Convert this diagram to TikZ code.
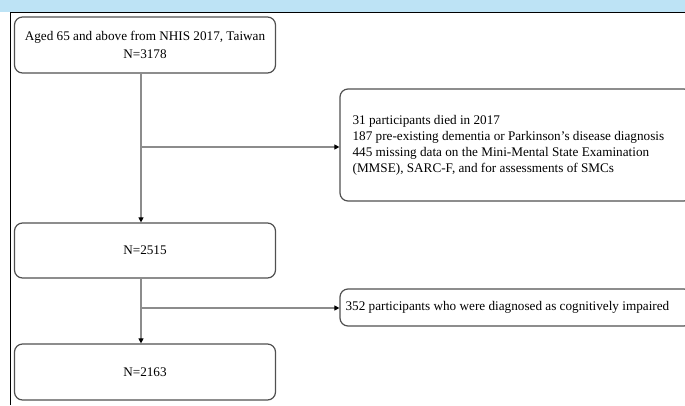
\documentclass[tikz,border=0pt]{standalone}
\usepackage{fontspec}
\setmainfont{Liberation Serif}
\usetikzlibrary{arrows.meta}
\definecolor{band}{HTML}{BDE3F5}
\definecolor{boxline}{HTML}{505050}
\definecolor{conn}{HTML}{8C8C8C}
\tikzset{
  x=1pt,y=-1pt,
  flowbox/.style={draw=boxline,line width=1.2pt,rounded corners=8pt,inner sep=0pt},
  conline/.style={draw=conn,line width=1.1pt},
  arr/.style={conline,-{Triangle[length=5pt,width=5pt,fill=black,color=black]}},
  txt/.style={font=\fontsize{13.2}{16}\selectfont,align=center,inner sep=0pt}
}
\begin{document}
\begin{tikzpicture}
\useasboundingbox (0,0) rectangle (685,405);
\fill[band] (0,0) rectangle (685,12);
\draw[black,line width=1pt] (10,405) -- (10,12) -- (685,12);
% boxes
\node[flowbox,minimum width=261pt,minimum height=56pt] (b1) at (145,45) {};
\node[flowbox,minimum width=352pt,minimum height=112pt] (b2) at (516,145) {};
\node[flowbox,minimum width=261pt,minimum height=55pt] (b3) at (145,250.5) {};
\node[flowbox,minimum width=352pt,minimum height=37pt] (b4) at (516,307.5) {};
\node[flowbox,minimum width=261pt,minimum height=56pt] (b5) at (145,372) {};
% texts
\node[txt,font=\fontsize{13.2}{18}\selectfont] (t1) at (b1.center) {Aged 65 and above from NHIS 2017, Taiwan\\N=3178};
\node[txt,align=left,anchor=west] (t2) at ([xshift=13pt]b2.west) {31 participants died in 2017\\187 pre-existing dementia or Parkinson’s disease diagnosis\\445 missing data on the Mini-Mental State Examination\\(MMSE), SARC-F, and for assessments of SMCs};
\node[txt] (t3) at (b3.center) {N=2515};
\node[txt,anchor=west] (t4) at ([xshift=6pt]b4.west) {352 participants who were diagnosed as cognitively impaired};
\node[txt] (t5) at (b5.center) {N=2163};
% connectors
\coordinate (j1) at (141,147);
\coordinate (j2) at (141,308);
\draw[arr] (b1.south -| j1) -- (b3.north -| j1);
\draw[arr] (j1) -- (j1 -| b2.west);
\draw[arr] (b3.south -| j2) -- (b5.north -| j2);
\draw[arr] (j2) -- (j2 -| b4.west);
\end{tikzpicture}
\end{document}
